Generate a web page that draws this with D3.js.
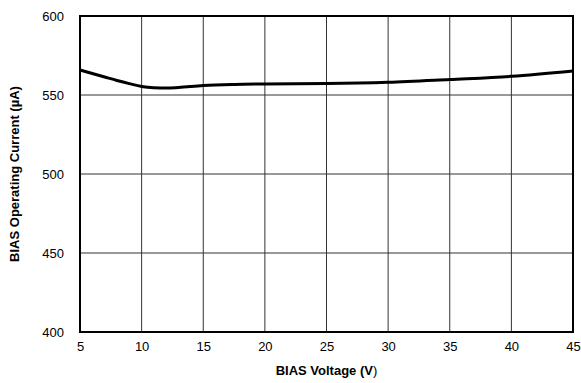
<!DOCTYPE html>
<html><head><meta charset="utf-8">
<script src="https://cdn.jsdelivr.net/npm/d3@7"></script>
<style>body{margin:0;background:#fff}svg{display:block}text{font-family:"Liberation Sans",Arial,sans-serif}</style>
</head><body>
<svg id="c" width="581" height="383"></svg>
<script>
const voltage = [5, 6, 7, 8, 9, 10, 11, 12, 13, 15, 17.5, 20, 25, 30, 35, 40, 45];
const current = [565.8, 563.6, 561.4, 559.2, 557.2, 555.4, 554.6, 554.4, 554.8, 556.0, 556.7, 557, 557.2, 558, 559.8, 561.8, 565.2];
const xTicks = [5, 10, 15, 20, 25, 30, 35, 40, 45];
const yTicks = [400, 450, 500, 550, 600];

const svg = d3.select("#c");
const L = 80, R = 573, T = 16, B = 332;
const x = d3.scaleLinear().domain([5, 45]).range([L, R]);
const y = d3.scaleLinear().domain([400, 600]).range([B, T]);

const g = svg.append("g");
g.selectAll(".vx").data(xTicks).enter().append("line")
  .attr("x1", d => x(d)).attr("x2", d => x(d)).attr("y1", T).attr("y2", B)
  .attr("stroke", "#333").attr("stroke-width", 1);
g.selectAll(".hy").data(yTicks).enter().append("line")
  .attr("y1", d => y(d)).attr("y2", d => y(d)).attr("x1", L).attr("x2", R)
  .attr("stroke", "#333").attr("stroke-width", 1);

svg.append("rect").attr("x", L).attr("y", T).attr("width", R - L).attr("height", B - T)
  .attr("fill", "none").attr("stroke", "#000").attr("stroke-width", 2);

const xAxis = d3.axisBottom(x).tickValues(xTicks).tickSize(0).tickPadding(10);
const xg = svg.append("g").attr("transform", `translate(0,${B})`).call(xAxis);
xg.select(".domain").remove();
xg.selectAll("text").attr("font-size", 13).attr("fill", "#000").attr("font-family", '"Liberation Sans",Arial,sans-serif');

const yAxis = d3.axisLeft(y).tickValues(yTicks).tickSize(0).tickPadding(16);
const yg = svg.append("g").attr("transform", `translate(${L},0)`).call(yAxis);
yg.select(".domain").remove();
yg.selectAll("text").attr("font-size", 13).attr("fill", "#000").attr("font-family", '"Liberation Sans",Arial,sans-serif');

const line = d3.line().x(d => x(d[0])).y(d => y(d[1])).curve(d3.curveMonotoneX);
svg.append("path").datum(voltage.map((v, i) => [v, current[i]]))
  .attr("d", line).attr("fill", "none").attr("stroke", "#000").attr("stroke-width", 3);

const xt = svg.append("text").attr("x", (L + R) / 2).attr("y", 375)
  .attr("text-anchor", "middle").attr("font-size", 13).attr("font-weight", "bold");
xt.append("tspan").text("BIAS Voltage (V");
xt.append("tspan").attr("font-weight", "normal").text(")");

svg.append("text").attr("transform", `translate(19,${(T + B) / 2}) rotate(-90)`)
  .attr("text-anchor", "middle").attr("font-size", 13).attr("font-weight", "bold")
  .text("BIAS Operating Current (µA)");
</script>
</body></html>
